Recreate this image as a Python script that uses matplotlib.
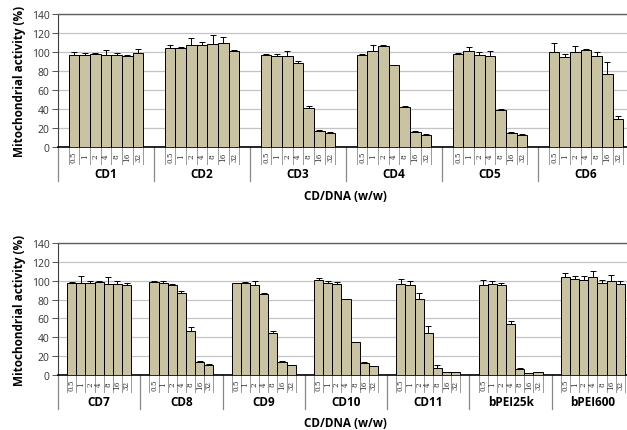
import numpy as np
import matplotlib.pyplot as plt
import matplotlib.transforms as mtransforms

plt.rcParams['font.family'] = ['Open Sans', 'DejaVu Sans']

ratios = ['0.5', '1', '2', '4', '8', '16', '32']

# top panel
top_groups = ['CD1', 'CD2', 'CD3', 'CD4', 'CD5', 'CD6']
top_vals = [
    [97, 97, 98, 97, 97, 96, 99],
    [104.5, 104.5, 107, 107, 108, 110, 101],
    [97, 96, 96, 88, 41, 17, 15],
    [96.5, 101.5, 106, 86, 42.5, 15.5, 13],
    [98, 101.5, 97, 95.5, 39, 15, 13],
    [100.5, 94.5, 100.5, 102.5, 96, 77, 30],
]
top_errs = [
    [3, 2, 1, 5.5, 2, 1, 4.5],
    [3, 1, 8, 4, 10, 6, 1],
    [1, 2, 5, 3, 2, 1, 1],
    [1, 6, 1, 0.5, 0.5, 1, 0.5],
    [1, 3.5, 3, 5.5, 0.5, 0.5, 0.5],
    [9, 3, 6, 1, 4, 13, 3],
]

# bottom panel
bot_groups = ['CD7', 'CD8', 'CD9', 'CD10', 'CD11', 'bPEI25k', 'bPEI600']
bot_vals = [
    [98, 97.5, 97.5, 99, 97, 97, 95],
    [99, 98, 95.5, 87.5, 47, 14, 10.5],
    [97.5, 98, 95.5, 86, 45, 13.5, 10.5],
    [101, 98, 96.5, 80.5, 34.5, 12.5, 9.5],
    [96.5, 95, 80.5, 45, 7.5, 3, 3],
    [95.5, 96, 95, 54.5, 6.5, 1.8, 2.8],
    [104, 102, 100.5, 104, 98, 100, 97],
]
bot_errs = [
    [1, 7, 2.5, 1, 7, 3, 3],
    [1, 1.5, 1, 2, 4, 1, 1],
    [0.5, 1, 4.5, 0.5, 1.5, 1, 0.5],
    [1.5, 2, 2, 0.5, 1, 1, 0.5],
    [5, 5, 6, 6.5, 3.5, 0, 0],
    [5.5, 3.5, 3, 3, 0.5, 0, 0],
    [4, 3, 5, 6, 3, 6.5, 3],
]

W, H = 627, 431
fig = plt.figure(figsize=(W / 100, H / 100), dpi=100)

bar_color = '#C9C2A3'


def panel(rect, groups, vals, errs, xlabel_y):
    ax = fig.add_axes(rect)
    ng = len(groups)
    xs, ys, es = [], [], []
    for g in range(ng):
        for i in range(7):
            xs.append(g * 9 + 1.5 + i)
            ys.append(vals[g][i])
            es.append(errs[g][i])
    ax.bar(xs, ys, width=1.0, color=bar_color, edgecolor='black', linewidth=0.7, zorder=3)
    ax.errorbar(xs, ys, yerr=[np.zeros(len(es)), es], fmt='none', ecolor='black',
                elinewidth=0.7, capsize=2, capthick=0.7, zorder=4)
    ax.set_xlim(0, 9 * ng)
    ax.set_ylim(0, 140)
    ax.set_yticks(np.arange(0, 141, 20))
    ax.yaxis.grid(True, color='#c4c4c4', linewidth=0.9, zorder=0)
    ax.set_axisbelow(True)
    ax.tick_params(axis='y', labelsize=7.5, length=4, width=0.7, color='#555555', pad=2,
                   labelcolor='#333333')
    ax.set_xticks([])
    ax.spines['right'].set_visible(False)
    ax.spines['top'].set_color('#606060')
    ax.spines['top'].set_linewidth(1.0)
    ax.spines['left'].set_color('#404040')
    ax.spines['left'].set_linewidth(0.8)
    ax.spines['bottom'].set_color('black')
    ax.spines['bottom'].set_linewidth(1.2)
    ax.set_ylabel('Mitochondrial activity (%)', fontsize=8.5, fontweight='bold', labelpad=4)

    # category axis below the plot (pixel offsets via blended transform)
    trans = mtransforms.blended_transform_factory(ax.transData, ax.transAxes)
    ax_h_px = rect[3] * H

    def fy(px):
        return -px / ax_h_px

    for g in range(ng):
        # group divider
        ax.plot([g * 9, g * 9], [0, fy(34)], transform=trans, color='#888888',
                linewidth=0.9, clip_on=False)
        for i in range(8):
            x = g * 9 + 1 + i
            ax.plot([x, x], [0, fy(17)], transform=trans, color='#999999',
                    linewidth=0.7, clip_on=False)
        for i, r in enumerate(ratios):
            ax.text(g * 9 + 1.5 + i, fy(9), r, transform=trans, rotation=90,
                    ha='center', va='center', fontsize=5.2, family='DejaVu Serif',
                    color='#333333')
        ax.text(g * 9 + 4.5, fy(27), groups[g], transform=trans, ha='center',
                va='center', fontsize=8.5, fontweight='bold')
    ax.plot([9 * ng, 9 * ng], [0, fy(34)], transform=trans, color='#888888',
            linewidth=0.9, clip_on=False)
    fig.text(345 / W, 1 - xlabel_y / H, 'CD/DNA (w/w)', ha='center', va='center',
             fontsize=8.5, fontweight='bold')
    return ax


panel([58 / W, (H - 148) / H, 576 / W, 133 / H], top_groups, top_vals, top_errs, 197)
panel([58 / W, (H - 376) / H, 576 / W, 132 / H], bot_groups, bot_vals, bot_errs, 424)

fig.savefig('out.png', dpi=100)
